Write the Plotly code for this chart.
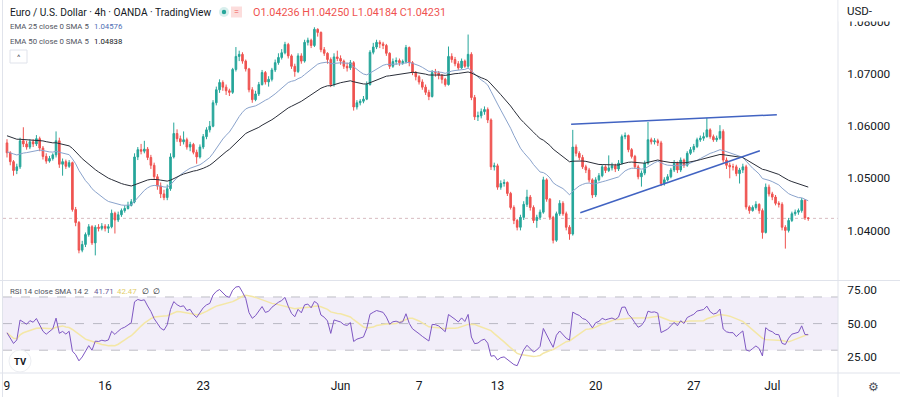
import numpy as np
import pandas as pd
import plotly.graph_objects as go

# ---------------- data (prices in 1/10000 units, one 4h candle per entry) ----------------
first_open_pips = 10568
close_pips = [
    10549, 10532, 10515, 10522, 10572, 10566, 10560, 10570, 10566, 10576,
    10558, 10542, 10533, 10538, 10545, 10572, 10527, 10532, 10523, 10530,
    10440, 10415, 10362, 10373, 10392, 10407, 10376, 10406, 10404, 10408,
    10404, 10407, 10433, 10420, 10430, 10438, 10442, 10448, 10455, 10541,
    10555, 10552, 10556, 10540, 10525, 10503, 10485, 10470, 10463, 10480,
    10541, 10586, 10576, 10570, 10574, 10560, 10565, 10550, 10541, 10560,
    10580, 10593, 10600, 10645, 10670, 10684, 10675, 10668, 10665, 10709,
    10734, 10738, 10725, 10710, 10670, 10651, 10662, 10680, 10703, 10685,
    10690, 10708, 10722, 10732, 10741, 10757, 10735, 10715, 10705, 10735,
    10725, 10761, 10765, 10755, 10786, 10780, 10747, 10740, 10728, 10680,
    10733, 10730, 10725, 10715, 10712, 10722, 10637, 10645, 10648, 10652,
    10680, 10742, 10752, 10761, 10758, 10755, 10740, 10715, 10724, 10726,
    10722, 10724, 10751, 10722, 10703, 10695, 10685, 10675, 10665, 10657,
    10703, 10702, 10698, 10690, 10680, 10734, 10728, 10720, 10712, 10725,
    10715, 10738, 10655, 10618, 10620, 10628, 10632, 10612, 10522, 10524,
    10483, 10490, 10492, 10471, 10444, 10419, 10406, 10425, 10450, 10464,
    10444, 10419, 10425, 10435, 10497, 10460, 10425, 10381, 10432, 10452,
    10432, 10406, 10393, 10560, 10548, 10540, 10522, 10516, 10497, 10468,
    10497, 10505, 10522, 10515, 10520, 10524, 10518, 10529, 10580, 10582,
    10555, 10542, 10522, 10503, 10510, 10529, 10574, 10570, 10572, 10568,
    10490, 10497, 10503, 10516, 10529, 10516, 10535, 10525, 10548, 10555,
    10561, 10574, 10577, 10580, 10593, 10580, 10574, 10577, 10590, 10535,
    10525, 10522, 10522, 10509, 10516, 10522, 10445, 10438, 10444, 10450,
    10438, 10396, 10483, 10470, 10464, 10452, 10450, 10406, 10400, 10419,
    10432, 10435, 10438, 10458, 10424, 10423.1,
]
high_pips = [
    10575, 10552, 10535, 10528, 10578, 10598, 10572, 10575, 10575, 10583,
    10580, 10562, 10548, 10543, 10548, 10590, 10578, 10538, 10536, 10535,
    10532, 10445, 10418, 10380, 10396, 10412, 10410, 10410, 10412, 10414,
    10412, 10412, 10440, 10436, 10436, 10442, 10448, 10455, 10460, 10548,
    10560, 10566, 10572, 10560, 10545, 10530, 10508, 10492, 10478, 10488,
    10548, 10607, 10594, 10582, 10590, 10578, 10570, 10568, 10555, 10565,
    10585, 10598, 10610, 10650, 10676, 10690, 10688, 10680, 10672, 10712,
    10752, 10745, 10742, 10728, 10712, 10675, 10668, 10685, 10708, 10706,
    10696, 10712, 10728, 10740, 10748, 10762, 10760, 10738, 10720, 10740,
    10740, 10766, 10770, 10768, 10790, 10788, 10782, 10752, 10742, 10732,
    10740, 10745, 10736, 10728, 10722, 10727, 10725, 10650, 10652, 10658,
    10686, 10746, 10760, 10766, 10765, 10762, 10758, 10742, 10730, 10732,
    10730, 10728, 10756, 10753, 10725, 10706, 10698, 10690, 10680, 10670,
    10708, 10710, 10706, 10700, 10693, 10753, 10740, 10733, 10725, 10730,
    10728, 10776, 10742, 10660, 10628, 10634, 10638, 10636, 10615, 10530,
    10528, 10496, 10498, 10494, 10474, 10448, 10422, 10430, 10456, 10478,
    10468, 10448, 10430, 10440, 10503, 10500, 10462, 10428, 10436, 10458,
    10456, 10436, 10410, 10593, 10565, 10552, 10545, 10526, 10520, 10500,
    10502, 10510, 10526, 10525, 10544, 10530, 10528, 10535, 10584, 10588,
    10584, 10558, 10545, 10526, 10515, 10534, 10608, 10578, 10577, 10576,
    10572, 10502, 10508, 10520, 10535, 10532, 10540, 10538, 10552, 10560,
    10566, 10578, 10582, 10588, 10616, 10596, 10584, 10582, 10602, 10594,
    10540, 10530, 10528, 10526, 10520, 10528, 10526, 10448, 10448, 10456,
    10452, 10442, 10490, 10488, 10474, 10468, 10456, 10454, 10410, 10424,
    10436, 10440, 10442, 10462, 10460, 10425.0,
]
low_pips = [
    10540, 10525, 10505, 10508, 10518, 10560, 10555, 10556, 10560, 10562,
    10552, 10536, 10528, 10530, 10534, 10540, 10520, 10505, 10518, 10520,
    10436, 10408, 10356, 10358, 10368, 10388, 10372, 10352, 10398, 10400,
    10398, 10395, 10404, 10394, 10416, 10426, 10434, 10440, 10446, 10452,
    10535, 10546, 10548, 10535, 10518, 10498, 10478, 10462, 10458, 10458,
    10476, 10538, 10570, 10562, 10565, 10555, 10552, 10546, 10528, 10538,
    10556, 10575, 10588, 10598, 10640, 10664, 10668, 10660, 10658, 10662,
    10705, 10725, 10720, 10705, 10665, 10645, 10648, 10658, 10678, 10680,
    10676, 10686, 10704, 10718, 10728, 10738, 10730, 10710, 10695, 10702,
    10720, 10722, 10755, 10750, 10752, 10772, 10742, 10735, 10720, 10675,
    10676, 10725, 10718, 10710, 10705, 10708, 10630, 10632, 10640, 10644,
    10650, 10678, 10738, 10748, 10750, 10748, 10735, 10710, 10712, 10718,
    10716, 10718, 10720, 10715, 10698, 10688, 10680, 10670, 10660, 10650,
    10655, 10695, 10690, 10682, 10676, 10678, 10722, 10715, 10708, 10710,
    10712, 10712, 10650, 10612, 10610, 10615, 10622, 10606, 10516, 10515,
    10478, 10478, 10484, 10466, 10440, 10412, 10400, 10400, 10420, 10445,
    10438, 10414, 10405, 10420, 10432, 10455, 10420, 10375, 10378, 10428,
    10428, 10400, 10382, 10390, 10542, 10535, 10518, 10510, 10492, 10462,
    10464, 10494, 10502, 10510, 10512, 10515, 10512, 10514, 10526, 10575,
    10550, 10538, 10518, 10498, 10484, 10506, 10526, 10565, 10565, 10562,
    10485, 10486, 10494, 10500, 10512, 10510, 10512, 10520, 10522, 10545,
    10550, 10558, 10570, 10572, 10578, 10576, 10570, 10570, 10574, 10530,
    10518, 10500, 10515, 10504, 10490, 10510, 10440, 10432, 10436, 10440,
    10432, 10384, 10394, 10465, 10458, 10448, 10444, 10400, 10365, 10396,
    10416, 10428, 10430, 10434, 10420, 10418.4,
]

# x-axis: candle index of the first 4h bar of each labelled day
tick_idx = [0, 30, 60, 102, 126, 150, 180, 210, 234]
tick_text = ["9", "16", "23", "Jun", "7", "13", "20", "27", "Jul"]
price_ticks = [1.04, 1.05, 1.06, 1.07, 1.08]
rsi_ticks = [25, 50, 75]

ema25_seed = 1.0551
ema50_seed = 1.0583
rsi_seed_gain = 0.00055
rsi_seed_loss = 0.00058

# hand-drawn wedge trendlines (candle index, price)
trend_upper_x = [172.5, 235.4]
trend_upper_y = [1.0604, 1.0622]
trend_lower_x = [175.3, 230.2]
trend_lower_y = [1.0434, 1.0553]

# ---------------- derived series ----------------
close = np.array(close_pips) / 1e4
high = np.array(high_pips) / 1e4
low = np.array(low_pips) / 1e4
open_ = np.concatenate([[first_open_pips / 1e4], close[:-1]])
idx = np.arange(len(close))


def ema(vals, n, seed):
    a = 2.0 / (n + 1)
    out, e = [], seed
    for v in vals:
        e = a * v + (1 - a) * e
        out.append(e)
    return np.array(out)


ema25 = ema(close, 25, ema25_seed)
ema50 = ema(close, 50, ema50_seed)

diff = close - open_
ag, al = rsi_seed_gain, rsi_seed_loss
rsi = []
for d in diff:
    ag = (ag * 13 + max(d, 0)) / 14
    al = (al * 13 + max(-d, 0)) / 14
    rsi.append(100 - 100 / (1 + ag / al))
rsi = np.array(rsi)
rsi_ma = pd.Series(rsi).rolling(14, min_periods=1).mean().values

GREEN = "#26a69a"
RED = "#ef5350"
FONT = "Roboto"
TXT = "#131722"
SUB = "#50535e"
BORDER = "#e0e3eb"

fig = go.Figure()
fig.add_trace(go.Candlestick(
    x=idx, open=open_, high=high, low=low, close=close,
    increasing=dict(line=dict(color=GREEN, width=1), fillcolor=GREEN),
    decreasing=dict(line=dict(color=RED, width=1), fillcolor=RED),
    whiskerwidth=0, showlegend=False, xaxis="x", yaxis="y"))
fig.add_trace(go.Scatter(x=idx, y=ema25, mode="lines", line=dict(color="#8aa3cc", width=1),
                         showlegend=False, yaxis="y"))
fig.add_trace(go.Scatter(x=idx, y=ema50, mode="lines", line=dict(color="#2a2e39", width=1),
                         showlegend=False, yaxis="y"))
for tx, ty in ((trend_upper_x, trend_upper_y), (trend_lower_x, trend_lower_y)):
    fig.add_trace(go.Scatter(x=tx, y=ty, mode="lines", line=dict(color="#4163c2", width=1.5),
                             showlegend=False, yaxis="y"))
fig.add_trace(go.Scatter(x=idx, y=rsi_ma, mode="lines", line=dict(color="#f4e7a6", width=1.5),
                         showlegend=False, yaxis="y2"))
fig.add_trace(go.Scatter(x=idx, y=rsi, mode="lines", line=dict(color="#7e57c2", width=1),
                         showlegend=False, yaxis="y2"))


def PX(px):
    return (px - 3) / 835.0


def PY(py):
    return (373 - py) / 373.0


shapes = [
    dict(type="rect", xref="paper", x0=0, x1=1, yref="y2", y0=30, y1=70,
         fillcolor="rgba(126,87,194,0.10)", line=dict(width=0), layer="below"),
]
for lvl in (70, 50, 30):
    shapes.append(dict(type="line", xref="paper", x0=0, x1=1, yref="y2", y0=lvl, y1=lvl,
                       line=dict(color="rgba(120,123,134,0.45)", width=1, dash="dash"), layer="below"))
shapes.append(dict(type="line", xref="paper", x0=0, x1=1, yref="y", y0=close[-1], y1=close[-1],
                   line=dict(color="rgba(200,160,165,0.7)", width=1, dash="dot"), layer="below"))
# frame / separators
shapes += [
    dict(type="line", xref="paper", yref="paper", x0=1, x1=1, y0=PY(397), y1=1,
         line=dict(color=BORDER, width=1)),
    dict(type="line", xref="paper", yref="paper", x0=PX(2.5), x1=PX(2.5), y0=PY(397), y1=1,
         line=dict(color=BORDER, width=1)),
    dict(type="line", xref="paper", yref="paper", x0=PX(0), x1=PX(900), y0=PY(280.5), y1=PY(280.5),
         line=dict(color=BORDER, width=1)),
    dict(type="line", xref="paper", yref="paper", x0=PX(0), x1=PX(900), y0=PY(373), y1=PY(373),
         line=dict(color=BORDER, width=1)),
    # mask over top of the price scale (the 1.08 label is half hidden there)
    dict(type="rect", xref="paper", yref="paper", x0=PX(838.6), x1=PX(900), y0=PY(21.5), y1=PY(0),
         fillcolor="white", line=dict(width=0), layer="above"),
    # status icons
    dict(type="circle", xref="paper", yref="paper", x0=PX(219), x1=PX(229), y0=PY(17), y1=PY(7),
         fillcolor="rgba(38,166,154,0.18)", line=dict(width=0)),
    dict(type="circle", xref="paper", yref="paper", x0=PX(221.8), x1=PX(226.2), y0=PY(14.2), y1=PY(9.8),
         fillcolor=GREEN, line=dict(width=0)),
    dict(type="rect", xref="paper", yref="paper", x0=PX(231), x1=PX(242), y0=PY(17.5), y1=PY(6.5),
         fillcolor="rgba(239,83,80,0.2)", line=dict(width=0)),
    # collapse button
    dict(type="rect", xref="paper", yref="paper", x0=PX(10), x1=PX(27), y0=PY(63), y1=PY(50),
         fillcolor="white", line=dict(color="#e0e3eb", width=1)),
    # TradingView logo disc
    dict(type="circle", xref="paper", yref="paper", x0=PX(9), x1=PX(31), y0=PY(372), y1=PY(350),
         fillcolor="white", line=dict(color="#eceef2", width=1)),
]


def ann(px, py, text, size, color=TXT, anchor="left", bold=False):
    if bold:
        text = "<b>" + text + "</b>"
    return dict(x=PX(px), y=PY(py), xref="paper", yref="paper", text=text, showarrow=False,
                xanchor=anchor, yanchor="middle", font=dict(family=FONT, size=size, color=color))


annotations = [
    ann(8, 12, "Euro / U.S. Dollar · 4h · OANDA · TradingView", 10.2),
    ann(251, 12, "O1.04236 H1.04250 L1.04184 C1.04231", 10.8, RED),
    ann(236.5, 12, "=", 9, RED, anchor="center"),
    ann(8, 26, "EMA 25 close 0 SMA 5", 7.8, SUB),
    ann(92, 26, "1.04576", 7.8, "#4f6fb5"),
    ann(8, 42, "EMA 50 close 0 SMA 5", 7.8, SUB),
    ann(92, 42, "1.04838", 7.8, TXT),
    ann(18.5, 57.5, "^", 8, SUB, anchor="center"),
    ann(8, 291, "RSI 14 close SMA 14 2", 7.8, SUB),
    ann(92, 291, "41.71", 7.8, "#6a5a9a"),
    ann(115, 291, "42.47", 7.8, "#e2cd6a"),
    ann(140, 291, "∅  ∅", 7.8, TXT),
    ann(20, 361, "TV", 9.5, TXT, anchor="center", bold=True),
    ann(845, 11, "USD-", 11.5),
    ann(873, 387, "⚙", 12, SUB, anchor="center"),
]

fig.update_layout(
    width=900, height=397,
    margin=dict(l=3, r=62, t=0, b=24),
    paper_bgcolor="white", plot_bgcolor="white",
    font=dict(family=FONT, color=TXT),
    showlegend=False,
    hovermode=False,
    shapes=shapes,
    annotations=annotations,
    xaxis=dict(range=[-1.22, 254.1], tickvals=tick_idx, ticktext=tick_text, anchor="y2",
               showgrid=False, zeroline=False, showline=False, rangeslider=dict(visible=False),
               ticks="outside", ticklen=2, tickcolor="rgba(0,0,0,0)",
               tickfont=dict(size=12, color=TXT)),
    yaxis=dict(domain=[PY(280.5), 1], range=[1.03038, 1.08423], side="right", anchor="x",
               tickvals=price_ticks, tickformat=".5f", showgrid=False, zeroline=False,
               ticks="outside", ticklen=6, tickcolor="rgba(0,0,0,0)",
               tickfont=dict(size=11.8, color=TXT)),
    yaxis2=dict(domain=[0, PY(281.5)], range=[12.9, 81.6], side="right", anchor="x",
                tickvals=rsi_ticks, tickformat=".2f", showgrid=False, zeroline=False,
                ticks="outside", ticklen=6, tickcolor="rgba(0,0,0,0)",
                tickfont=dict(size=11.8, color=TXT)),
)

fig.write_html("out.html", config={"displayModeBar": False},
               post_script="document.body.style.margin='0';")
